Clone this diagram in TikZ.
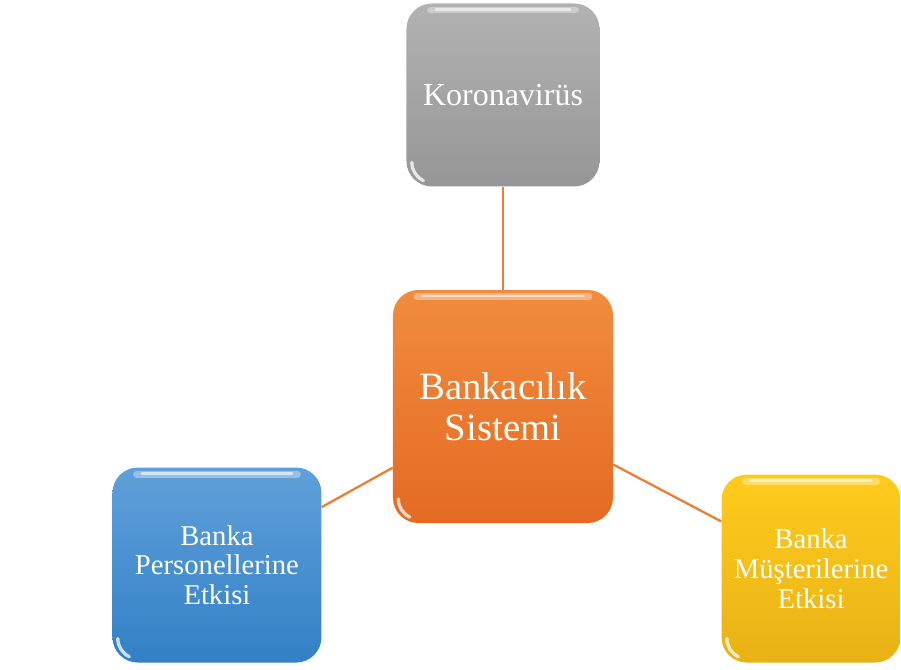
\documentclass[tikz,border=0pt]{standalone}
\usepackage{fontspec}
\setmainfont{Liberation Serif}
\usetikzlibrary{positioning}
\definecolor{linkorange}{RGB}{237,125,49}
\definecolor{grtop}{RGB}{178,178,178}
\definecolor{grbot}{RGB}{150,150,150}
\definecolor{ortop}{RGB}{241,140,62}
\definecolor{orbot}{RGB}{228,106,34}
\definecolor{bltop}{RGB}{96,160,218}
\definecolor{blbot}{RGB}{50,128,198}
\definecolor{yetop}{RGB}{255,203,28}
\definecolor{yebot}{RGB}{232,178,22}
\tikzstyle{link} = [line width=1.7pt, draw=linkorange]
\tikzstyle{gloss} = [rounded corners=19pt, text=white, align=center,
    path picture={
      \draw[white, opacity=0.35, line width=5pt, line cap=round]
        ([xshift=18pt,yshift=-5pt]path picture bounding box.north west) --
        ([xshift=-18pt,yshift=-5pt]path picture bounding box.north east);
      \draw[white, opacity=0.6, line width=2pt, line cap=round]
        ([xshift=22pt,yshift=-4.5pt]path picture bounding box.north west) --
        ([xshift=-22pt,yshift=-4.5pt]path picture bounding box.north east);
      \draw[white, opacity=0.75, line width=2.5pt, line cap=round]
        ([xshift=4pt,yshift=18pt]path picture bounding box.south west)
        arc[start angle=180, end angle=245, radius=15pt];
    }]

\begin{document}
\begin{tikzpicture}
        \useasboundingbox (-377.25pt,-196.875pt) rectangle (298.5pt,304.875pt);
        \tikzstyle{bankbox}=[gloss, top color=ortop, bottom color=orbot,
                             minimum width=165pt, minimum height=174.75pt,
                             font=\fontsize{29}{30.75}\selectfont]
        \tikzstyle{korobox}=[gloss, top color=grtop, bottom color=grbot,
                             minimum width=144.75pt, minimum height=137.25pt,
                             font=\fontsize{24}{26}\selectfont]
        \tikzstyle{persbox}=[gloss, top color=bltop, bottom color=blbot,
                             minimum width=156.75pt, minimum height=146.25pt,
                             font=\fontsize{21.5}{22}\selectfont]
        \tikzstyle{mustbox}=[gloss, top color=yetop, bottom color=yebot,
                             minimum width=134.25pt, minimum height=141pt,
                             font=\fontsize{21.5}{22.5}\selectfont]
        \node (bank) [bankbox] {Bankacılık\\Sistemi};
        \node (koro) [korobox, above=77.25pt of bank] {Koronavirüs};
        \node (pers) [persbox, below left=-42pt and 53.25pt of bank] {Banka\\Personellerine\\Etkisi};
        \node (must) [mustbox, below right=-36.75pt and 81pt of bank] {Banka\\Müşterilerine\\Etkisi};
        \draw[link] (bank)--(koro);
        \draw[link] (bank)--(pers);
        \draw[link] (bank)--(must);
    \end{tikzpicture}
\end{document}
